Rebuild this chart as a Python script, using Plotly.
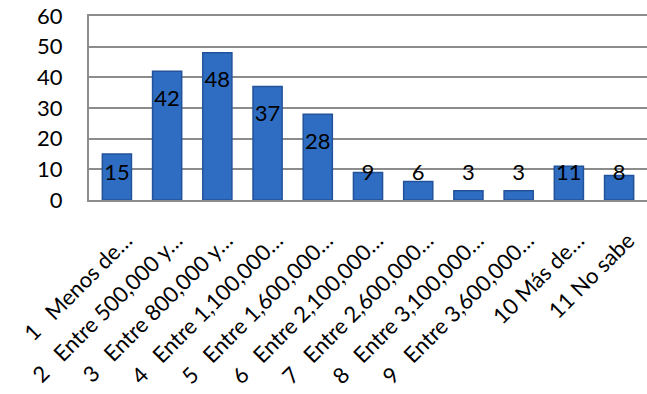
import plotly.graph_objects as go

categorias = [
    "1\u00a0\u00a0 Menos de…",
    "2\u00a0\u00a0 Entre 500,000 y…",
    "3\u00a0\u00a0 Entre 800,000 y…",
    "4\u00a0\u00a0 Entre 1,100,000…",
    "5\u00a0\u00a0 Entre 1,600,000…",
    "6\u00a0\u00a0 Entre 2,100,000…",
    "7\u00a0\u00a0 Entre 2,600,000…",
    "8\u00a0\u00a0 Entre 3,100,000…",
    "9\u00a0\u00a0 Entre 3,600,000…",
    "10 Más de…",
    "11 No sabe",
]
valores = [15, 42, 48, 37, 28, 9, 6, 3, 3, 11, 8]

# label sits inside near the top, but never lower than a floor (like Excel "inside end")
pos_etiqueta = [max(v - 9.5, 8.2) for v in valores]

fig = go.Figure()

fig.add_trace(go.Bar(
    x=categorias,
    y=valores,
    marker={
        'color': '#2f6dc2',
        'line': {'color': '#22529a', 'width': 1.5},
    },
    width=0.58,
    hoverinfo='skip',
))

fig.add_trace(go.Scatter(
    x=categorias,
    y=pos_etiqueta,
    mode='text',
    text=[str(v) for v in valores],
    textposition='middle center',
    textfont={'size': 22, 'color': 'black', 'family': 'Lato'},
    hoverinfo='skip',
))

fig.update_layout(
    width=647,
    height=394,
    margin={'l': 89, 'r': 0, 't': 16, 'b': 194},
    plot_bgcolor='white',
    paper_bgcolor='white',
    showlegend=False,
    font={'family': 'Lato', 'color': 'black'},
    xaxis={
        'automargin': False,
        'tickangle': -45,
        'tickfont': {'size': 22},
        'ticklabelshift': 9,
        'ticklabelstandoff': 17,
        'showline': True,
        'linecolor': '#8c8c8c',
        'linewidth': 2,
        'mirror': True,
        'showgrid': False,
        'ticks': '',
    },
    yaxis={
        'automargin': False,
        'range': [0, 60],
        'dtick': 10,
        'tickfont': {'size': 22},
        'showgrid': True,
        'gridcolor': '#8c8c8c',
        'gridwidth': 1.5,
        'showline': True,
        'linecolor': '#8c8c8c',
        'linewidth': 2,
        'mirror': True,
        'zeroline': False,
        'ticks': 'outside',
        'ticklen': 20,
        'tickcolor': 'white',
    },
)

# drop the default page margin so the figure fills the window
fig.write_html(
    "out.html",
    config={'displayModeBar': False},
    post_script="document.body.style.margin='0';",
)
